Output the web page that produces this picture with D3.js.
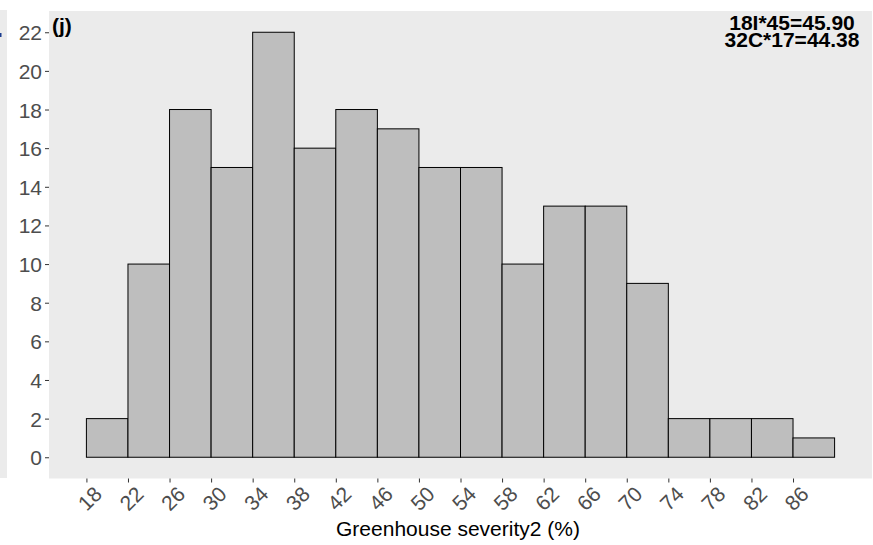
<!DOCTYPE html>
<html>
<head>
<meta charset="utf-8">
<script src="https://cdn.jsdelivr.net/npm/d3@7"></script>
<style>
  body { margin: 0; background: #fff; }
  svg { display: block; font-family: "Liberation Sans", Arial, sans-serif; }
</style>
</head>
<body>
<div id="chart"></div>
<script>
// histogram bins (left edges), counts, tick values
const binStarts = [18, 22, 26, 30, 34, 38, 42, 46, 50, 54, 58, 62, 66, 70, 74, 78, 82, 86];
const counts = [2, 10, 18, 15, 22, 16, 18, 17, 15, 15, 10, 13, 13, 9, 2, 2, 2, 1];
const binWidth = 4;
const yTicks = [0, 2, 4, 6, 8, 10, 12, 14, 16, 18, 20, 22];
const xTicks = [18, 22, 26, 30, 34, 38, 42, 46, 50, 54, 58, 62, 66, 70, 74, 78, 82, 86];
const annoLines = ["18I*45=45.90", "32C*17=44.38"];

const layout = {
    width: 873,
    height: 545,
    panelLeft: 49,
    panelRight: 872,
    panelTop: 11,
    panelBottom: 478.5
};

const svg = d3.select("#chart").append("svg")
    .attr("width", layout.width)
    .attr("height", layout.height);

// ggplot-like 5% expansion
const xMin = d3.min(binStarts), xMax = d3.max(binStarts) + binWidth;
const xPad = (xMax - xMin) * 0.05;
const x = d3.scaleLinear()
    .domain([xMin - xPad, xMax + xPad])
    .range([layout.panelLeft, layout.panelRight]);
const yPad = d3.max(counts) * 0.05;
const y = d3.scaleLinear()
    .domain([-yPad, d3.max(counts) + yPad])
    .range([layout.panelBottom, layout.panelTop]);

// edge of neighbouring panel on the left (and a clipped glyph of its text)
svg.append("rect")
    .attr("x", 0).attr("y", 10)
    .attr("width", 7).attr("height", 468)
    .attr("fill", "#ebebeb");
svg.append("rect")
    .attr("x", 0).attr("y", 33)
    .attr("width", 1.5).attr("height", 4)
    .attr("fill", "#1b3d8f");

// panel background
svg.append("rect")
    .attr("x", layout.panelLeft)
    .attr("y", layout.panelTop)
    .attr("width", layout.panelRight - layout.panelLeft)
    .attr("height", layout.panelBottom - layout.panelTop)
    .attr("fill", "#ebebeb");

// bars
svg.append("g").selectAll("rect")
    .data(binStarts.map((s, i) => ({ start: s, count: counts[i] })))
    .join("rect")
    .attr("x", d => x(d.start))
    .attr("y", d => y(d.count))
    .attr("width", d => x(d.start + binWidth) - x(d.start))
    .attr("height", d => y(0) - y(d.count))
    .attr("fill", "#bebebe")
    .attr("stroke", "#000")
    .attr("stroke-width", 1);

// y axis
let yAxis = svg.append("g")
    .attr("transform", `translate(${layout.panelLeft},0)`)
    .call(d3.axisLeft(y).tickValues(yTicks).tickSize(4).tickPadding(3));
yAxis.select(".domain").remove();
yAxis.selectAll("line").attr("stroke", "#333");
yAxis.selectAll("text")
    .attr("fill", "#4d4d4d")
    .attr("font-size", 21)
    .attr("font-family", "Liberation Sans, Arial, sans-serif")
    .attr("dy", "0.36em");

// x axis
let xAxis = svg.append("g")
    .attr("transform", `translate(0,${layout.panelBottom})`)
    .call(d3.axisBottom(x).tickValues(xTicks).tickSize(4).tickFormat(d3.format("d")));
xAxis.select(".domain").remove();
xAxis.selectAll("line").attr("stroke", "#333");
xAxis.selectAll("text")
    .attr("fill", "#4d4d4d")
    .attr("font-size", 21)
    .attr("font-family", "Liberation Sans, Arial, sans-serif")
    .attr("text-anchor", "middle")
    .attr("y", 0)
    .attr("dy", "0.35em")
    .attr("transform", "translate(3,20) rotate(-45)");

// x axis title
svg.append("text")
    .attr("x", 458)
    .attr("y", 536)
    .attr("text-anchor", "middle")
    .attr("font-size", 21)
    .attr("fill", "#000")
    .text("Greenhouse severity2 (%)");

// panel tag
svg.append("text")
    .attr("x", 52)
    .attr("y", 33)
    .attr("font-size", 21)
    .attr("font-weight", "bold")
    .attr("fill", "#000")
    .text("(j)");

// annotation in top right
svg.append("g").selectAll("text")
    .data(annoLines)
    .join("text")
    .attr("x", 792)
    .attr("y", (d, i) => 30 + i * 17)
    .attr("text-anchor", "middle")
    .attr("font-size", 21)
    .attr("font-weight", "bold")
    .attr("fill", "#000")
    .text(d => d);
</script>
</body>
</html>
